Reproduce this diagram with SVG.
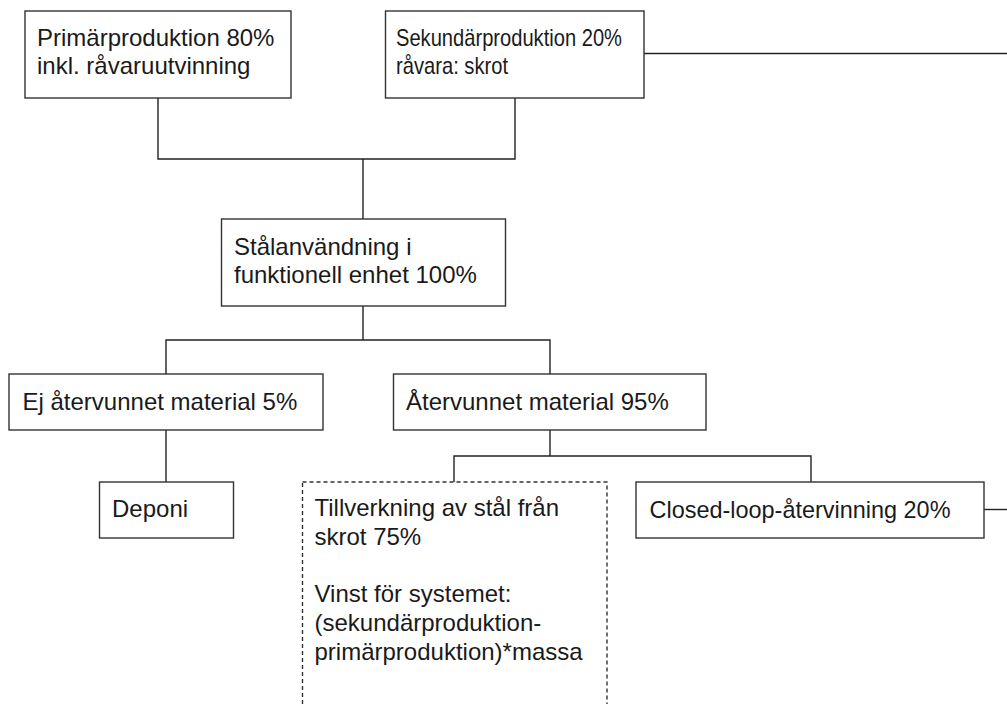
<svg xmlns="http://www.w3.org/2000/svg" width="1007" height="704" viewBox="0 0 1007 704">
<style>
.box{fill:#fff;stroke:#333;stroke-width:1.4}
.dash{fill:#fff;stroke:#333;stroke-width:1.4;stroke-dasharray:4,3}
.ln{fill:none;stroke:#222;stroke-width:1.4}
text{font-family:"Liberation Sans",Arial,sans-serif;font-size:24px;fill:#1a1a1a}
</style>
<rect width="1007" height="704" fill="#fff"/>
<g id="connectors">
<polyline class="ln" points="158,98 158,159 515,159 515,98"/>
<line class="ln" x1="363" y1="159" x2="363" y2="219"/>
<line class="ln" x1="644" y1="53.5" x2="1007" y2="53.5"/>
<line class="ln" x1="363" y1="306" x2="363" y2="340"/>
<polyline class="ln" points="166,374 166,340 550,340 550,374"/>
<line class="ln" x1="166" y1="430" x2="166" y2="482"/>
<line class="ln" x1="550" y1="430" x2="550" y2="456"/>
<polyline class="ln" points="454,482 454,456 811,456 811,482"/>
<line class="ln" x1="984" y1="509.5" x2="1007" y2="509.5"/>
</g>
<g id="primar">
<rect class="box" x="25" y="11" width="266" height="87"/>
<text x="37" y="46">Primärproduktion 80%</text>
<text x="37" y="74">inkl. råvaruutvinning</text>
</g>
<g id="sekundar">
<rect class="box" x="385.5" y="11" width="258.5" height="87"/>
<text x="396" y="46" textLength="226" lengthAdjust="spacingAndGlyphs">Sekundärproduktion 20%</text>
<text x="396" y="74" textLength="112" lengthAdjust="spacingAndGlyphs">råvara: skrot</text>
</g>
<g id="stalanvandning">
<rect class="box" x="221.5" y="219" width="284" height="87"/>
<text x="234" y="254.5">Stålanvändning i</text>
<text x="234" y="283">funktionell enhet 100%</text>
</g>
<g id="ej-atervunnet">
<rect class="box" x="9" y="374" width="314" height="56"/>
<text x="22.5" y="409.5">Ej återvunnet material 5%</text>
</g>
<g id="atervunnet">
<rect class="box" x="393.5" y="374" width="312.5" height="56"/>
<text x="406" y="409.5">Återvunnet material 95%</text>
</g>
<g id="deponi">
<rect class="box" x="99.5" y="482" width="134" height="56"/>
<text x="112" y="517">Deponi</text>
</g>
<g id="tillverkning">
<rect class="dash" x="302.5" y="482" width="304.5" height="300"/>
<text x="314.5" y="516">Tillverkning av stål från</text>
<text x="314.5" y="544.5">skrot 75%</text>
<text x="314.5" y="602">Vinst för systemet:</text>
<text x="314.5" y="631">(sekundärproduktion-</text>
<text x="314.5" y="659.5">primärproduktion)*massa</text>
</g>
<g id="closed-loop">
<rect class="box" x="636" y="482" width="348" height="56"/>
<text x="649.5" y="518" textLength="301" lengthAdjust="spacingAndGlyphs">Closed-loop-återvinning 20%</text>
</g>
</svg>
